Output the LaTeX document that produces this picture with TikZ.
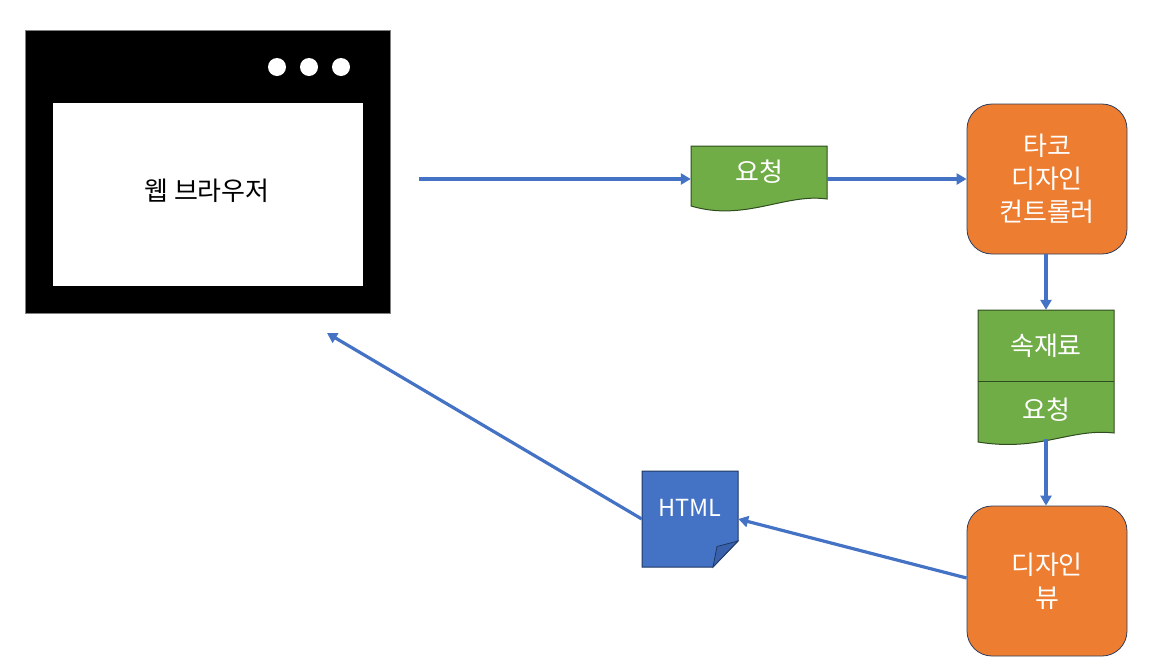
\documentclass[tikz,border=0pt]{standalone}
\usepackage{fontspec}
\setmainfont{Noto Sans CJK KR}
\usetikzlibrary{arrows.meta,calc}
\definecolor{arrowblue}{HTML}{4472C4}
\definecolor{docgreen}{HTML}{70AD47}
\definecolor{docgreenline}{HTML}{2F4D1F}
\definecolor{boxorange}{HTML}{ED7D31}
\definecolor{boxline}{HTML}{2F3E5C}
\definecolor{htmlline}{HTML}{1F3864}
\definecolor{htmlfold}{HTML}{3A62AC}
\tikzset{
  flow/.style={draw=arrowblue, line width=3.2pt, -{Triangle[length=10pt,width=11pt]}},
  wtext/.style={text=white, font=\fontsize{26}{33}\selectfont, align=center, inner sep=0pt},
  procbox/.style={fill=boxorange, draw=boxline, line width=0.8pt, rounded corners=25pt,
    minimum width=160pt, minimum height=150pt, wtext},
  docshape/.style={fill=docgreen, draw=docgreenline, line width=1pt},
  docarea/.style={minimum width=136pt, inner sep=0pt, wtext},
  dotnode/.style={circle, fill=white, minimum size=18pt, inner sep=0pt},
}
\begin{document}
\begin{tikzpicture}[x=1pt,y=-1pt]
\useasboundingbox (0,0) rectangle (1157,670);

% web browser
\node[fill=black, draw=gray, line width=0.6pt, minimum width=365pt, minimum height=283pt, inner sep=0pt] (browser) at (207.5,171.5) {};
\node[fill=white, minimum width=310pt, minimum height=183pt, inner sep=0pt] (screen) at (208,194.5) {};
\node[inner sep=0pt, font=\fontsize{26}{30}\selectfont] (browsertext) at (207,191) {웹 브라우저};
\node[dotnode] (dot1) at (277,67) {};
\node[dotnode] (dot2) at (309,67) {};
\node[dotnode] (dot3) at (341,67) {};

% request document
\path[docshape] (691,146) -- (827,146) -- (827,199)
  .. controls (785,193) and (745,222) .. (691,206) -- cycle;
\node[docarea, minimum height=52pt] (req1) at (759,172) {요청};

% controller
\node[procbox] (ctrl) at (1047,179) {타코\\디자인\\컨트롤러};

% ingredients / request document
\path[docshape] (978,310) -- (1114,310) -- (1114,433)
  .. controls (1070,428) and (1040,452) .. (978,442) -- cycle;
\node[docarea, minimum height=71pt] (ing) at (1046,345.5) {속재료};
\node[docarea, minimum height=58pt] (req2) at (1046,410) {요청};
\draw[docgreenline, line width=1pt] (ing.south west) -- (ing.south east);

% design view
\node[procbox] (view) at (1047,581) {디자인\\뷰};

% HTML document
\path[fill=arrowblue, draw=htmlline, line width=1pt] (642,471) -- (738,471) -- (738,541)
  -- (713,567) -- (642,567) -- cycle;
\path[fill=htmlfold, draw=htmlline, line width=0.8pt] (738,541) -- (717,546.5) -- (713,567) -- cycle;
\node[minimum width=96pt, minimum height=96pt, inner sep=0pt] (html) at (690,519) {};
\node[text=white, inner sep=0pt, font=\fontsize{23.5}{28}\selectfont] (htmltext) at (690,508) {HTML};

% connectors
\coordinate (start1) at (419,179);
\coordinate (browserend) at (327,333);
\draw[flow] (start1) -- (start1 -| req1.west);
\draw[flow] (req1.east |- ctrl.west) -- (ctrl.west);
\draw[flow] (ing.north |- ctrl.south) -- (ing.north);
\draw[flow] (req2.south) -- (req2.south |- view.north);
\draw[flow] ([yshift=3pt]view.west) -- (html.east);
\draw[flow] (html.west) -- (browserend);
\end{tikzpicture}
\end{document}
